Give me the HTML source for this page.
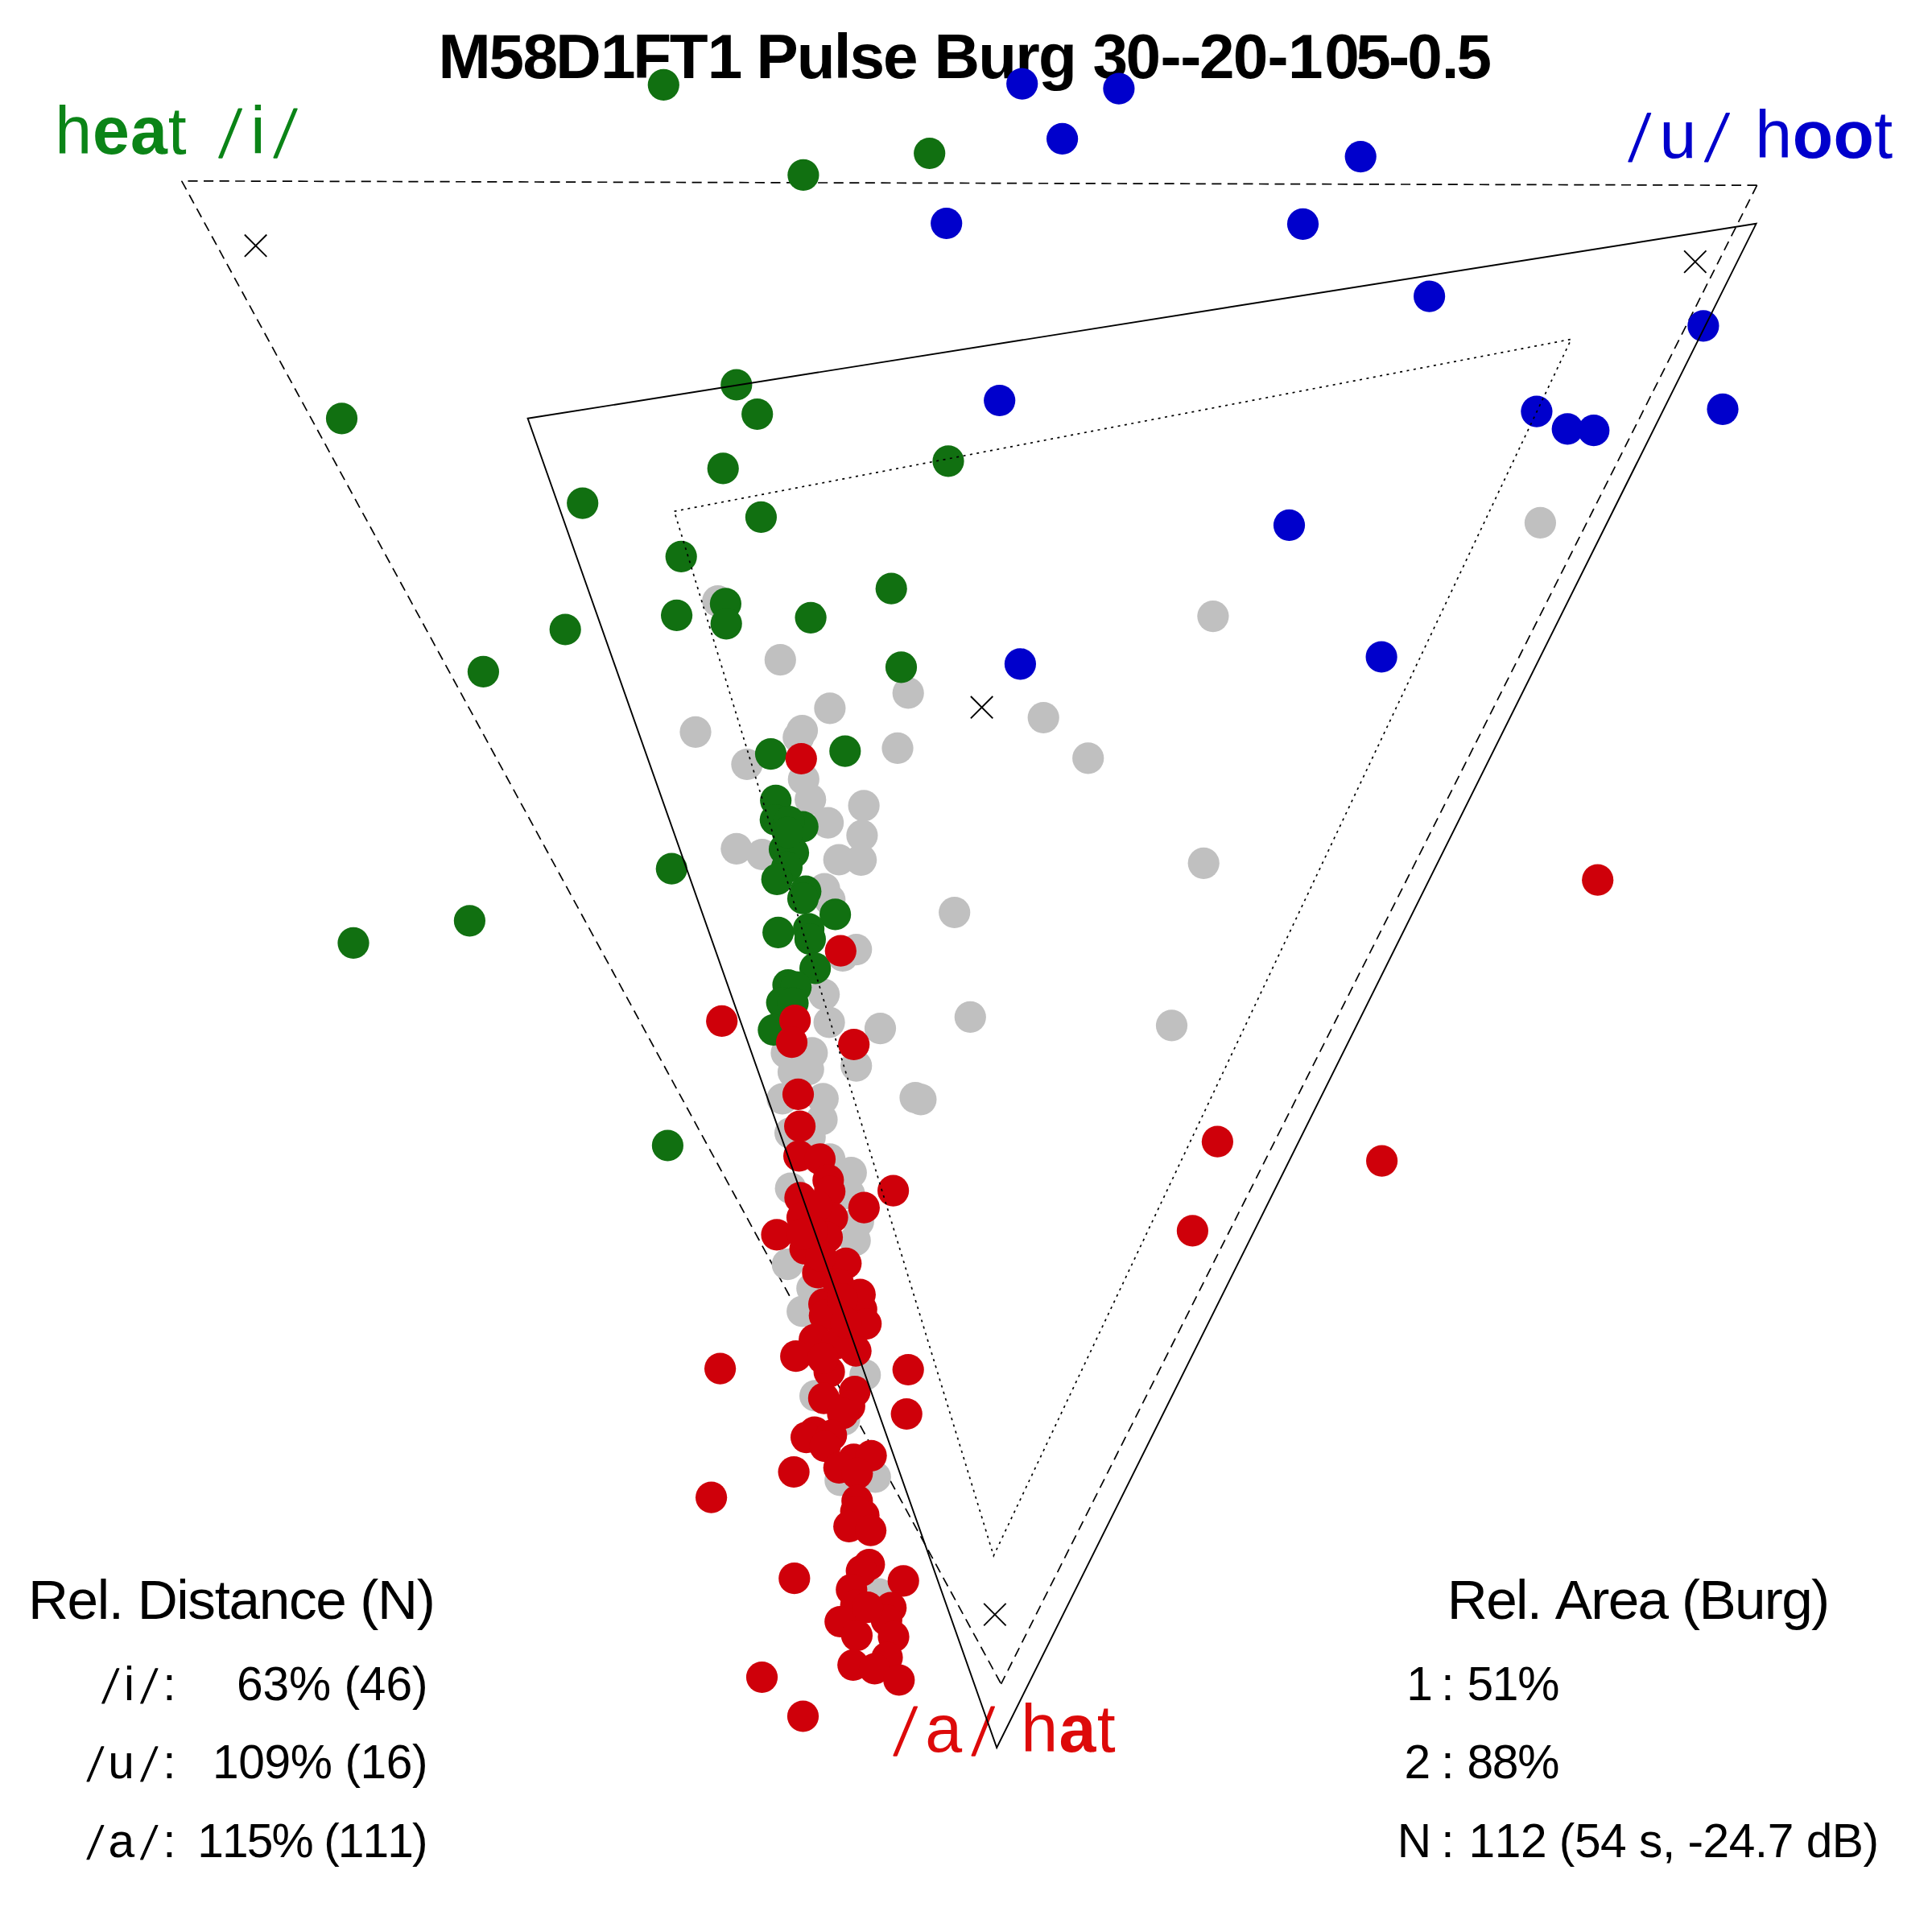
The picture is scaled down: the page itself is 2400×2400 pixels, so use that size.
<!DOCTYPE html><html><head><meta charset="utf-8"><title>M58D1FT1 Pulse Burg</title>
<style>html,body{margin:0;padding:0;background:#fff;overflow:hidden;}svg{display:block;} text{font-kerning:none;font-feature-settings:"kern" 0, "liga" 0;}</style></head><body>
<svg width="2400" height="2400" viewBox="0 0 2400 2400" font-family='"Liberation Sans", Arial, Helvetica, sans-serif'>
<rect width="100%" height="100%" fill="#fff"/>
<g fill="none" stroke="#000" stroke-width="1.7" stroke-dasharray="12.1 7.466"><line x1="2182.6" y1="230.2" x2="225.7" y2="224.8"/><line x1="225.7" y1="224.8" x2="1243.6" y2="2091.8"/><line x1="2182.6" y1="230.2" x2="1243.6" y2="2091.8"/></g>
<text x="68.3" y="190.8" font-size="82.5" fill="#0b8417" letter-spacing="0.92">h<tspan font-weight="bold">ea</tspan>t</text>
<text transform="translate(271.47 189.06) skewX(-5.43)" font-family="'DejaVu Sans', sans-serif" font-weight="200" font-size="73.60" fill="#0b8417" stroke="#0b8417" stroke-width="1.60" stroke-linejoin="round">/</text>
<text x="311.3" y="190.8" font-size="82.5" fill="#0b8417" letter-spacing="0.00">i</text>
<text transform="translate(339.83 189.06) skewX(-5.90)" font-family="'DejaVu Sans', sans-serif" font-weight="200" font-size="73.60" fill="#0b8417" stroke="#0b8417" stroke-width="1.60" stroke-linejoin="round">/</text>
<text transform="translate(2022.61 194.11) skewX(-4.89)" font-family="'DejaVu Sans', sans-serif" font-weight="200" font-size="72.99" fill="#0000cc" stroke="#0000cc" stroke-width="1.60" stroke-linejoin="round">/</text>
<text x="2061.6" y="196.0" font-size="82.5" fill="#0000cc" letter-spacing="0.00">u</text>
<text transform="translate(2117.46 194.11) skewX(-7.82)" font-family="'DejaVu Sans', sans-serif" font-weight="200" font-size="72.99" fill="#0000cc" stroke="#0000cc" stroke-width="1.60" stroke-linejoin="round">/</text>
<text x="2180.3" y="196.0" font-size="82.5" fill="#0000cc" letter-spacing="0.44">h<tspan font-weight="bold">oo</tspan>t</text>
<text transform="translate(1109.67 2174.16) skewX(-6.27)" font-family="'DejaVu Sans', sans-serif" font-weight="200" font-size="73.60" fill="#dd0a0a" stroke="#dd0a0a" stroke-width="1.60" stroke-linejoin="round">/</text>
<text x="1149.3" y="2175.9" font-size="82.5" fill="#dd0a0a" letter-spacing="0.00">a</text>
<text transform="translate(1206.64 2174.16) skewX(-5.15)" font-family="'DejaVu Sans', sans-serif" font-weight="200" font-size="73.60" fill="#dd0a0a" stroke="#dd0a0a" stroke-width="1.60" stroke-linejoin="round">/</text>
<text x="1268.2" y="2175.9" font-size="82.5" fill="#dd0a0a" letter-spacing="1.37">h<tspan font-weight="bold">a</tspan>t</text>
<text x="544.56 607.39 649.61 690.16 745.95 786.16 831.82 878.75" y="96.80" font-size="78.30" fill="#000" font-weight="bold">M58D1FT1</text>
<text x="939.6" y="96.8" font-size="78.3" fill="#000" letter-spacing="-1.97"><tspan font-weight="bold">Pulse</tspan></text>
<text x="1160.5" y="96.8" font-size="78.3" fill="#000" letter-spacing="-1.77"><tspan font-weight="bold">Burg</tspan></text>
<text x="1357.40 1398.40 1441.44 1466.24 1489.89 1531.70 1574.54 1599.95 1645.20 1684.19 1724.94 1748.20 1790.79 1809.59" y="96.80" font-size="78.30" fill="#000" font-weight="bold">30--20-105-0.5</text>
<g fill="#c0c0c0"><circle cx="891.8" cy="746.6" r="19.6"/><circle cx="969.3" cy="819.7" r="19.6"/><circle cx="1030.9" cy="879.8" r="19.6"/><circle cx="864.0" cy="909.3" r="19.6"/><circle cx="996.5" cy="907.6" r="19.6"/><circle cx="991.8" cy="915.9" r="19.6"/><circle cx="1115.0" cy="929.4" r="19.6"/><circle cx="927.9" cy="949.5" r="19.6"/><circle cx="998.3" cy="968.0" r="19.6"/><circle cx="1006.7" cy="993.3" r="19.6"/><circle cx="1073.1" cy="1000.8" r="19.6"/><circle cx="1028.6" cy="1022.1" r="19.6"/><circle cx="1070.9" cy="1037.8" r="19.6"/><circle cx="1042.2" cy="1068.0" r="19.6"/><circle cx="1069.6" cy="1068.3" r="19.6"/><circle cx="914.9" cy="1054.3" r="19.6"/><circle cx="946.7" cy="1061.5" r="19.6"/><circle cx="1024.2" cy="1104.2" r="19.6"/><circle cx="1030.8" cy="1117.8" r="19.6"/><circle cx="1128.2" cy="860.9" r="19.6"/><circle cx="1296.2" cy="891.5" r="19.6"/><circle cx="1351.7" cy="941.8" r="19.6"/><circle cx="1506.9" cy="765.6" r="19.6"/><circle cx="1913.4" cy="649.4" r="19.6"/><circle cx="1495.2" cy="1072.3" r="19.6"/><circle cx="1455.5" cy="1273.9" r="19.6"/><circle cx="1185.7" cy="1133.5" r="19.6"/><circle cx="1205.3" cy="1263.4" r="19.6"/><circle cx="1063.7" cy="1179.6" r="19.6"/><circle cx="1046.9" cy="1187.4" r="19.6"/><circle cx="1023.6" cy="1235.3" r="19.6"/><circle cx="1030.1" cy="1270.0" r="19.6"/><circle cx="1093.5" cy="1277.6" r="19.6"/><circle cx="1063.7" cy="1324.1" r="19.6"/><circle cx="1137.0" cy="1363.5" r="19.6"/><circle cx="1143.9" cy="1365.8" r="19.6"/><circle cx="1008.8" cy="1307.9" r="19.6"/><circle cx="977.0" cy="1307.9" r="19.6"/><circle cx="996.5" cy="1324.7" r="19.6"/><circle cx="985.5" cy="1331.8" r="19.6"/><circle cx="1004.2" cy="1328.6" r="19.6"/><circle cx="971.9" cy="1365.0" r="19.6"/><circle cx="1022.3" cy="1364.8" r="19.6"/><circle cx="1021.0" cy="1390.7" r="19.6"/><circle cx="981.6" cy="1407.5" r="19.6"/><circle cx="1006.2" cy="1412.7" r="19.6"/><circle cx="1030.7" cy="1439.9" r="19.6"/><circle cx="1057.3" cy="1456.7" r="19.6"/><circle cx="982.2" cy="1476.2" r="19.6"/><circle cx="1066.3" cy="1517.6" r="19.6"/><circle cx="1062.2" cy="1540.9" r="19.6"/><circle cx="978.3" cy="1570.7" r="19.6"/><circle cx="1008.8" cy="1600.5" r="19.6"/><circle cx="996.7" cy="1629.0" r="19.6"/><circle cx="1074.7" cy="1708.0" r="19.6"/><circle cx="1012.6" cy="1733.9" r="19.6"/><circle cx="1048.9" cy="1763.6" r="19.6"/><circle cx="1043.8" cy="1838.8" r="19.6"/><circle cx="1087.3" cy="1834.9" r="19.6"/><circle cx="1092.0" cy="1980.1" r="19.6"/><circle cx="1055.0" cy="1483.0" r="19.6"/></g>
<g fill="#117011"><circle cx="824.3" cy="105.4" r="19.6"/><circle cx="997.9" cy="217.4" r="19.6"/><circle cx="1154.7" cy="190.5" r="19.6"/><circle cx="424.5" cy="519.8" r="19.6"/><circle cx="723.7" cy="625.1" r="19.6"/><circle cx="846.2" cy="691.4" r="19.6"/><circle cx="914.8" cy="478.0" r="19.6"/><circle cx="940.7" cy="514.5" r="19.6"/><circle cx="898.2" cy="581.9" r="19.6"/><circle cx="1178.0" cy="572.8" r="19.6"/><circle cx="945.4" cy="642.4" r="19.6"/><circle cx="1107.2" cy="731.2" r="19.6"/><circle cx="840.6" cy="764.4" r="19.6"/><circle cx="901.4" cy="749.9" r="19.6"/><circle cx="902.2" cy="774.8" r="19.6"/><circle cx="1007.1" cy="767.3" r="19.6"/><circle cx="1119.5" cy="828.8" r="19.6"/><circle cx="957.5" cy="936.6" r="19.6"/><circle cx="1049.8" cy="933.1" r="19.6"/><circle cx="702.2" cy="782.0" r="19.6"/><circle cx="600.4" cy="834.4" r="19.6"/><circle cx="439.0" cy="1171.4" r="19.6"/><circle cx="583.4" cy="1143.8" r="19.6"/><circle cx="834.3" cy="1079.2" r="19.6"/><circle cx="829.4" cy="1423.0" r="19.6"/><circle cx="963.7" cy="994.4" r="19.6"/><circle cx="963.3" cy="1018.5" r="19.6"/><circle cx="997.2" cy="1027.0" r="19.6"/><circle cx="974.5" cy="1055.0" r="19.6"/><circle cx="985.5" cy="1059.2" r="19.6"/><circle cx="977.4" cy="1077.4" r="19.6"/><circle cx="965.2" cy="1092.3" r="19.6"/><circle cx="1000.8" cy="1107.2" r="19.6"/><circle cx="997.5" cy="1116.2" r="19.6"/><circle cx="1037.6" cy="1135.9" r="19.6"/><circle cx="966.7" cy="1158.3" r="19.6"/><circle cx="1004.6" cy="1153.8" r="19.6"/><circle cx="1006.4" cy="1166.7" r="19.6"/><circle cx="1012.6" cy="1202.9" r="19.6"/><circle cx="979.0" cy="1223.6" r="19.6"/><circle cx="988.7" cy="1226.2" r="19.6"/><circle cx="971.2" cy="1245.6" r="19.6"/><circle cx="960.9" cy="1279.4" r="19.6"/><circle cx="980.1" cy="1020.6" r="19.6"/><circle cx="978.3" cy="1034.2" r="19.6"/><circle cx="985.0" cy="1246.0" r="19.6"/></g>
<g fill="#0000cc"><circle cx="1269.7" cy="104.1" r="19.6"/><circle cx="1389.9" cy="110.1" r="19.6"/><circle cx="1319.6" cy="172.4" r="19.6"/><circle cx="1175.7" cy="277.5" r="19.6"/><circle cx="1690.2" cy="194.6" r="19.6"/><circle cx="1618.5" cy="278.3" r="19.6"/><circle cx="1775.6" cy="368.1" r="19.6"/><circle cx="2115.9" cy="404.8" r="19.6"/><circle cx="1908.9" cy="511.2" r="19.6"/><circle cx="1947.2" cy="532.9" r="19.6"/><circle cx="1979.8" cy="534.7" r="19.6"/><circle cx="2140.0" cy="508.3" r="19.6"/><circle cx="1241.7" cy="497.5" r="19.6"/><circle cx="1267.4" cy="824.8" r="19.6"/><circle cx="1601.5" cy="652.4" r="19.6"/><circle cx="1716.1" cy="816.0" r="19.6"/></g>
<g fill="#cf000a"><circle cx="995.3" cy="942.5" r="19.6"/><circle cx="1044.3" cy="1181.2" r="19.6"/><circle cx="896.7" cy="1268.3" r="19.6"/><circle cx="987.6" cy="1267.7" r="19.6"/><circle cx="983.5" cy="1294.7" r="19.6"/><circle cx="1060.7" cy="1297.5" r="19.6"/><circle cx="991.5" cy="1359.4" r="19.6"/><circle cx="993.6" cy="1399.1" r="19.6"/><circle cx="992.6" cy="1436.0" r="19.6"/><circle cx="1018.5" cy="1439.9" r="19.6"/><circle cx="1028.8" cy="1465.9" r="19.6"/><circle cx="1030.7" cy="1480.1" r="19.6"/><circle cx="993.9" cy="1487.9" r="19.6"/><circle cx="1073.3" cy="1500.2" r="19.6"/><circle cx="1109.6" cy="1479.1" r="19.6"/><circle cx="1034.0" cy="1512.5" r="19.6"/><circle cx="996.5" cy="1512.5" r="19.6"/><circle cx="965.0" cy="1533.8" r="19.6"/><circle cx="1027.5" cy="1537.0" r="19.6"/><circle cx="1000.1" cy="1551.3" r="19.6"/><circle cx="1050.8" cy="1569.4" r="19.6"/><circle cx="1015.9" cy="1581.0" r="19.6"/><circle cx="1068.3" cy="1608.2" r="19.6"/><circle cx="1023.6" cy="1619.9" r="19.6"/><circle cx="1070.2" cy="1626.5" r="19.6"/><circle cx="1041.7" cy="1595.3" r="19.6"/><circle cx="1024.3" cy="1634.2" r="19.6"/><circle cx="1075.7" cy="1644.6" r="19.6"/><circle cx="1011.7" cy="1664.0" r="19.6"/><circle cx="988.7" cy="1684.7" r="19.6"/><circle cx="1063.1" cy="1678.2" r="19.6"/><circle cx="1030.1" cy="1704.1" r="19.6"/><circle cx="1061.8" cy="1728.7" r="19.6"/><circle cx="1023.4" cy="1737.1" r="19.6"/><circle cx="1055.3" cy="1746.8" r="19.6"/><circle cx="1046.9" cy="1755.9" r="19.6"/><circle cx="1012.0" cy="1779.2" r="19.6"/><circle cx="1001.6" cy="1785.6" r="19.6"/><circle cx="1032.7" cy="1783.0" r="19.6"/><circle cx="1024.9" cy="1796.6" r="19.6"/><circle cx="1060.5" cy="1812.8" r="19.6"/><circle cx="1082.1" cy="1808.3" r="19.6"/><circle cx="986.1" cy="1828.5" r="19.6"/><circle cx="1042.3" cy="1823.3" r="19.6"/><circle cx="1064.8" cy="1830.3" r="19.6"/><circle cx="894.6" cy="1700.2" r="19.6"/><circle cx="1128.2" cy="1701.5" r="19.6"/><circle cx="1126.2" cy="1756.5" r="19.6"/><circle cx="883.6" cy="1860.2" r="19.6"/><circle cx="1064.8" cy="1864.4" r="19.6"/><circle cx="1073.0" cy="1882.3" r="19.6"/><circle cx="1063.2" cy="1877.6" r="19.6"/><circle cx="1054.7" cy="1896.3" r="19.6"/><circle cx="1081.6" cy="1901.2" r="19.6"/><circle cx="986.8" cy="1960.7" r="19.6"/><circle cx="1079.8" cy="1943.6" r="19.6"/><circle cx="1070.2" cy="1951.4" r="19.6"/><circle cx="1122.2" cy="1963.8" r="19.6"/><circle cx="1057.8" cy="1974.7" r="19.6"/><circle cx="1106.7" cy="1997.2" r="19.6"/><circle cx="1063.2" cy="1994.1" r="19.6"/><circle cx="1101.3" cy="2012.7" r="19.6"/><circle cx="1043.8" cy="2014.5" r="19.6"/><circle cx="1064.4" cy="2031.6" r="19.6"/><circle cx="1110.0" cy="2033.2" r="19.6"/><circle cx="1102.0" cy="2059.0" r="19.6"/><circle cx="1059.8" cy="2068.3" r="19.6"/><circle cx="1086.5" cy="2073.0" r="19.6"/><circle cx="1116.8" cy="2087.0" r="19.6"/><circle cx="946.5" cy="2083.5" r="19.6"/><circle cx="997.5" cy="2132.0" r="19.6"/><circle cx="1014.6" cy="1498.2" r="19.6"/><circle cx="1009.4" cy="1529.3" r="19.6"/><circle cx="1019.8" cy="1560.3" r="19.6"/><circle cx="1046.5" cy="1613.5" r="19.6"/><circle cx="1039.2" cy="1669.2" r="19.6"/><circle cx="1022.3" cy="1687.3" r="19.6"/><circle cx="1050.8" cy="1643.3" r="19.6"/><circle cx="997.0" cy="1533.0" r="19.6"/><circle cx="1077.7" cy="1996.7" r="19.6"/><circle cx="1984.7" cy="1093.2" r="19.6"/><circle cx="1512.4" cy="1418.2" r="19.6"/><circle cx="1716.6" cy="1442.1" r="19.6"/><circle cx="1481.4" cy="1528.9" r="19.6"/></g>
<polygon points="655.6,519.8 2181.6,277.8 1238.2,2171.0" fill="none" stroke="#000" stroke-width="1.9" stroke-linejoin="miter"/>
<polygon points="837.6,635.2 1951.8,421.4 1234.3,1932.6" fill="none" stroke="#000" stroke-width="1.7" stroke-dasharray="3 5.5"/>
<path d="M303.9 291.5L331.3 318.9M303.9 318.9L331.3 291.5" stroke="#000" stroke-width="1.9" fill="none"/>
<path d="M2092.1 311.4L2119.5 338.8M2092.1 338.8L2119.5 311.4" stroke="#000" stroke-width="1.9" fill="none"/>
<path d="M1205.9 865.0L1233.3 892.4M1205.9 892.4L1233.3 865.0" stroke="#000" stroke-width="1.9" fill="none"/>
<path d="M1222.2 1991.9L1249.6 2019.3M1222.2 2019.3L1249.6 1991.9" stroke="#000" stroke-width="1.9" fill="none"/>
<text x="34.9" y="2010.9" font-size="69.3" fill="#000" letter-spacing="-1.35">Rel. Distance (N)</text>
<text transform="translate(126.44 2111.22) skewX(-6.76)" font-family="'DejaVu Sans', sans-serif" font-weight="200" font-size="52.43" fill="#000" stroke="#000" stroke-width="1.20" stroke-linejoin="round">/</text>
<text x="153.97" y="2112.00" font-size="58.70" fill="#000">i</text>
<text transform="translate(174.55 2111.22) skewX(-6.89)" font-family="'DejaVu Sans', sans-serif" font-weight="200" font-size="52.43" fill="#000" stroke="#000" stroke-width="1.20" stroke-linejoin="round">/</text>
<text x="202.14" y="2112.00" font-size="58.70" fill="#000">:</text>
<text x="293.9" y="2112.0" font-size="58.7" fill="#000" letter-spacing="-0.07">63% (46)</text>
<text transform="translate(107.81 2208.24) skewX(-6.43)" font-family="'DejaVu Sans', sans-serif" font-weight="200" font-size="52.31" fill="#000" stroke="#000" stroke-width="1.20" stroke-linejoin="round">/</text>
<text x="134.19" y="2209.10" font-size="58.70" fill="#000">u</text>
<text transform="translate(174.56 2208.24) skewX(-6.95)" font-family="'DejaVu Sans', sans-serif" font-weight="200" font-size="52.31" fill="#000" stroke="#000" stroke-width="1.20" stroke-linejoin="round">/</text>
<text x="202.14" y="2209.10" font-size="58.70" fill="#000">:</text>
<text x="264.0" y="2209.1" font-size="58.7" fill="#000" letter-spacing="-0.40">109% (16)</text>
<text transform="translate(107.85 2305.41) skewX(-6.88)" font-family="'DejaVu Sans', sans-serif" font-weight="200" font-size="51.46" fill="#000" stroke="#000" stroke-width="1.20" stroke-linejoin="round">/</text>
<text x="134.51" y="2306.90" font-size="58.70" fill="#000">a</text>
<text transform="translate(174.60 2305.41) skewX(-7.41)" font-family="'DejaVu Sans', sans-serif" font-weight="200" font-size="51.46" fill="#000" stroke="#000" stroke-width="1.20" stroke-linejoin="round">/</text>
<text x="202.14" y="2306.90" font-size="58.70" fill="#000">:</text>
<text x="245.3" y="2306.9" font-size="58.7" fill="#000" letter-spacing="-1.91">115% (111)</text>
<text x="1797.8" y="2010.8" font-size="69.3" fill="#000" letter-spacing="-1.69">Rel. Area (Burg)</text>
<text x="1747.23" y="2112.00" font-size="58.70" fill="#000">1</text>
<text x="1790.14" y="2112.00" font-size="58.70" fill="#000">:</text>
<text x="1822.6" y="2112.0" font-size="58.7" fill="#000" letter-spacing="-1.37">51%</text>
<text x="1744.45" y="2209.10" font-size="58.70" fill="#000">2</text>
<text x="1790.14" y="2209.10" font-size="58.70" fill="#000">:</text>
<text x="1822.4" y="2209.1" font-size="58.7" fill="#000" letter-spacing="-1.27">88%</text>
<text x="1735.78" y="2306.90" font-size="58.70" fill="#000">N</text>
<text x="1790.14" y="2306.90" font-size="58.70" fill="#000">:</text>
<text x="1824.6" y="2306.9" font-size="58.7" fill="#000" letter-spacing="-0.49">112 (54 s, -24.7 dB)</text>
</svg></body></html>
